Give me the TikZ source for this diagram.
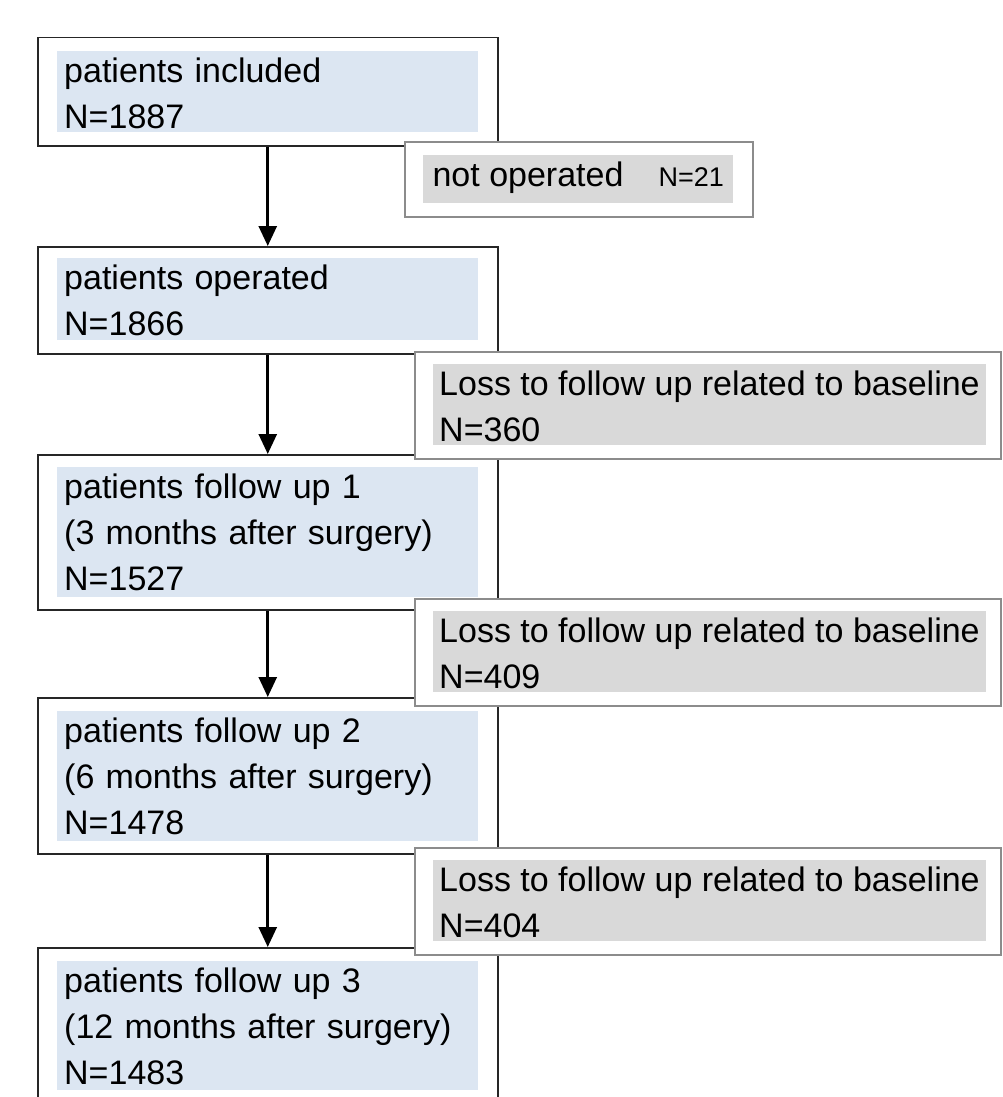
\documentclass[tikz,border=0pt]{standalone}
\usepackage{fontspec}
\setmainfont{Liberation Sans}
\usetikzlibrary{arrows.meta}
\definecolor{bluefill}{HTML}{DCE6F2}
\definecolor{grayfill}{HTML}{D9D9D9}
\definecolor{mainline}{HTML}{262626}
\definecolor{sideline}{HTML}{8C8C8C}
\newcommand\bigfont{\fontsize{34}{46}\selectfont}
\newcommand\smallnfont{\fontsize{27}{30}\selectfont}
\newcommand\topst{\rule{0pt}{31.5pt}}
\newcommand\botst[1]{\rule[-#1]{0pt}{#1}}
\tikzset{
  mainbox/.style={draw=mainline, line width=1.5pt, fill=white, minimum width=460pt, inner sep=0pt, anchor=north west},
  sidebox/.style={draw=sideline, line width=1.5pt, fill=white, inner sep=0pt, anchor=north west},
  bluetext/.style={fill=bluefill, anchor=north west, inner xsep=7pt, inner ysep=0pt, text width=407pt, align=left, font=\bigfont},
  graytext/.style={fill=grayfill, anchor=north west, inner xsep=6pt, inner ysep=0pt, minimum width=552pt, align=left, font=\bigfont},
  flow/.style={line width=2.7pt, draw=black, -{Triangle[width=18pt,length=20pt]}}
}
\begin{document}
\begin{tikzpicture}[x=1pt,y=-1pt]
\useasboundingbox (0,0) rectangle (1003,1097);
\clip (0,0) rectangle (1003,1097);
\fill[white] (0,0) rectangle (1003,1097);
% main boxes
\node[mainbox, minimum height=108pt] (b1) at (37,37) {};
\node[bluetext] (f1) at (57,51) {\topst patients included\\N=1887\botst{3.5pt}};
\node[mainbox, minimum height=107pt] (b2) at (37,246) {};
\node[bluetext] (f2) at (57,258) {\topst patients operated\\N=1866\botst{4.5pt}};
\node[mainbox, minimum height=155pt] (b3) at (37,454) {};
\node[bluetext] (f3) at (57,467) {\topst patients follow up 1\\(3 months after surgery)\\N=1527\botst{6.5pt}};
\node[mainbox, minimum height=156pt] (b4) at (37,697) {};
\node[bluetext] (f4) at (57,711) {\topst patients follow up 2\\(6 months after surgery)\\N=1478\botst{6.5pt}};
\node[mainbox, minimum height=175pt] (b5) at (37,947) {};
\node[bluetext] (f5) at (57,961) {\topst patients follow up 3\\(12 months after surgery)\\N=1483\botst{5.5pt}};
% arrows
\draw[flow] (b1.south) -- (b2.north);
\draw[flow] (b2.south) -- (b3.north);
\draw[flow] (b3.south) -- (b4.north);
\draw[flow] (b4.south) -- (b5.north);
% side boxes
\node[sidebox, minimum width=348pt, minimum height=75pt] (x1) at (404,141) {};
\node[fill=grayfill, anchor=north west, inner xsep=8pt, inner ysep=0pt, minimum width=310pt, font=\bigfont] (g1) at (423,155) {\rule[-16.5pt]{0pt}{48pt}not operated\hspace{35pt}{\smallnfont N=21}};
\node[sidebox, minimum width=586pt, minimum height=107pt] (x2) at (414,351) {};
\node[graytext] (g2) at (433,364) {\topst Loss to follow up related to baseline\\N=360\botst{3.5pt}};
\node[sidebox, minimum width=586pt, minimum height=107pt] (x3) at (414,598) {};
\node[graytext] (g3) at (433,611) {\topst Loss to follow up related to baseline\\N=409\botst{3.5pt}};
\node[sidebox, minimum width=586pt, minimum height=107pt] (x4) at (414,847) {};
\node[graytext] (g4) at (433,860) {\topst Loss to follow up related to baseline\\N=404\botst{3.5pt}};
\end{tikzpicture}
\end{document}
